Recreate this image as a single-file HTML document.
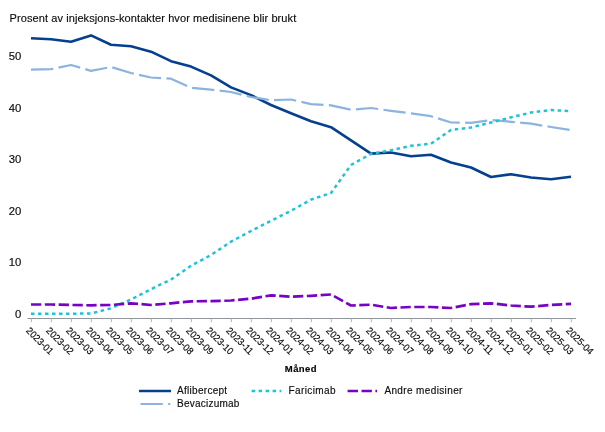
<!DOCTYPE html>
<html><head><meta charset="utf-8"><title>Chart</title>
<style>
html,body{margin:0;padding:0;background:#fff}
svg{display:block;font-family:"Liberation Sans",Arial,sans-serif;fill:#0d0d0d}
text{stroke:#0d0d0d;stroke-width:0.15px}
.ln{fill:none;stroke-linejoin:round;stroke-linecap:butt}
</style></head><body>
<svg width="605" height="432" viewBox="0 0 605 432">
<rect width="605" height="432" fill="#fff"/>
<text x="9.6" y="22.4" font-size="11" textLength="286.6">Prosent av injeksjons-kontakter hvor medisinene blir brukt</text>
<g font-size="10"><text transform="translate(21.4,317.6) scale(1.13,1.03)" text-anchor="end">0</text><text transform="translate(21.4,266.1) scale(1.13,1.03)" text-anchor="end">10</text><text transform="translate(21.4,214.6) scale(1.13,1.03)" text-anchor="end">20</text><text transform="translate(21.4,163.0) scale(1.13,1.03)" text-anchor="end">30</text><text transform="translate(21.4,111.5) scale(1.13,1.03)" text-anchor="end">40</text><text transform="translate(21.4,60.0) scale(1.13,1.03)" text-anchor="end">50</text></g>
<g stroke="#90959c" stroke-width="1"><line x1="27.5" y1="318.5" x2="576" y2="318.5"/><line x1="31.3" y1="318.5" x2="31.3" y2="322.2" stroke="#b0b3b7"/><line x1="51.3" y1="318.5" x2="51.3" y2="322.2" stroke="#b0b3b7"/><line x1="71.3" y1="318.5" x2="71.3" y2="322.2" stroke="#b0b3b7"/><line x1="91.3" y1="318.5" x2="91.3" y2="322.2" stroke="#b0b3b7"/><line x1="111.3" y1="318.5" x2="111.3" y2="322.2" stroke="#b0b3b7"/><line x1="131.3" y1="318.5" x2="131.3" y2="322.2" stroke="#b0b3b7"/><line x1="151.3" y1="318.5" x2="151.3" y2="322.2" stroke="#b0b3b7"/><line x1="171.3" y1="318.5" x2="171.3" y2="322.2" stroke="#b0b3b7"/><line x1="191.3" y1="318.5" x2="191.3" y2="322.2" stroke="#b0b3b7"/><line x1="211.3" y1="318.5" x2="211.3" y2="322.2" stroke="#b0b3b7"/><line x1="231.3" y1="318.5" x2="231.3" y2="322.2" stroke="#b0b3b7"/><line x1="251.3" y1="318.5" x2="251.3" y2="322.2" stroke="#b0b3b7"/><line x1="271.3" y1="318.5" x2="271.3" y2="322.2" stroke="#b0b3b7"/><line x1="291.3" y1="318.5" x2="291.3" y2="322.2" stroke="#b0b3b7"/><line x1="311.3" y1="318.5" x2="311.3" y2="322.2" stroke="#b0b3b7"/><line x1="331.3" y1="318.5" x2="331.3" y2="322.2" stroke="#b0b3b7"/><line x1="351.3" y1="318.5" x2="351.3" y2="322.2" stroke="#b0b3b7"/><line x1="371.3" y1="318.5" x2="371.3" y2="322.2" stroke="#b0b3b7"/><line x1="391.3" y1="318.5" x2="391.3" y2="322.2" stroke="#b0b3b7"/><line x1="411.3" y1="318.5" x2="411.3" y2="322.2" stroke="#b0b3b7"/><line x1="431.3" y1="318.5" x2="431.3" y2="322.2" stroke="#b0b3b7"/><line x1="451.3" y1="318.5" x2="451.3" y2="322.2" stroke="#b0b3b7"/><line x1="471.3" y1="318.5" x2="471.3" y2="322.2" stroke="#b0b3b7"/><line x1="491.3" y1="318.5" x2="491.3" y2="322.2" stroke="#b0b3b7"/><line x1="511.3" y1="318.5" x2="511.3" y2="322.2" stroke="#b0b3b7"/><line x1="531.3" y1="318.5" x2="531.3" y2="322.2" stroke="#b0b3b7"/><line x1="551.3" y1="318.5" x2="551.3" y2="322.2" stroke="#b0b3b7"/><line x1="571.3" y1="318.5" x2="571.3" y2="322.2" stroke="#b0b3b7"/></g>
<g font-size="9.7" fill="#000" stroke="#000" stroke-width="0.2"><text transform="translate(25.6,331.25) rotate(45)" textLength="33.9" lengthAdjust="spacingAndGlyphs">2023-01</text><text transform="translate(45.6,331.25) rotate(45)" textLength="33.9" lengthAdjust="spacingAndGlyphs">2023-02</text><text transform="translate(65.6,331.25) rotate(45)" textLength="33.9" lengthAdjust="spacingAndGlyphs">2023-03</text><text transform="translate(85.6,331.25) rotate(45)" textLength="33.9" lengthAdjust="spacingAndGlyphs">2023-04</text><text transform="translate(105.6,331.25) rotate(45)" textLength="33.9" lengthAdjust="spacingAndGlyphs">2023-05</text><text transform="translate(125.6,331.25) rotate(45)" textLength="33.9" lengthAdjust="spacingAndGlyphs">2023-06</text><text transform="translate(145.6,331.25) rotate(45)" textLength="33.9" lengthAdjust="spacingAndGlyphs">2023-07</text><text transform="translate(165.6,331.25) rotate(45)" textLength="33.9" lengthAdjust="spacingAndGlyphs">2023-08</text><text transform="translate(185.6,331.25) rotate(45)" textLength="33.9" lengthAdjust="spacingAndGlyphs">2023-09</text><text transform="translate(205.6,331.25) rotate(45)" textLength="33.9" lengthAdjust="spacingAndGlyphs">2023-10</text><text transform="translate(225.6,331.25) rotate(45)" textLength="33.9" lengthAdjust="spacingAndGlyphs">2023-11</text><text transform="translate(245.6,331.25) rotate(45)" textLength="33.9" lengthAdjust="spacingAndGlyphs">2023-12</text><text transform="translate(265.6,331.25) rotate(45)" textLength="33.9" lengthAdjust="spacingAndGlyphs">2024-01</text><text transform="translate(285.6,331.25) rotate(45)" textLength="33.9" lengthAdjust="spacingAndGlyphs">2024-02</text><text transform="translate(305.6,331.25) rotate(45)" textLength="33.9" lengthAdjust="spacingAndGlyphs">2024-03</text><text transform="translate(325.6,331.25) rotate(45)" textLength="33.9" lengthAdjust="spacingAndGlyphs">2024-04</text><text transform="translate(345.6,331.25) rotate(45)" textLength="33.9" lengthAdjust="spacingAndGlyphs">2024-05</text><text transform="translate(365.6,331.25) rotate(45)" textLength="33.9" lengthAdjust="spacingAndGlyphs">2024-06</text><text transform="translate(385.6,331.25) rotate(45)" textLength="33.9" lengthAdjust="spacingAndGlyphs">2024-07</text><text transform="translate(405.6,331.25) rotate(45)" textLength="33.9" lengthAdjust="spacingAndGlyphs">2024-08</text><text transform="translate(425.6,331.25) rotate(45)" textLength="33.9" lengthAdjust="spacingAndGlyphs">2024-09</text><text transform="translate(445.6,331.25) rotate(45)" textLength="33.9" lengthAdjust="spacingAndGlyphs">2024-10</text><text transform="translate(465.6,331.25) rotate(45)" textLength="33.9" lengthAdjust="spacingAndGlyphs">2024-11</text><text transform="translate(485.6,331.25) rotate(45)" textLength="33.9" lengthAdjust="spacingAndGlyphs">2024-12</text><text transform="translate(505.6,331.25) rotate(45)" textLength="33.9" lengthAdjust="spacingAndGlyphs">2025-01</text><text transform="translate(525.6,331.25) rotate(45)" textLength="33.9" lengthAdjust="spacingAndGlyphs">2025-02</text><text transform="translate(545.6,331.25) rotate(45)" textLength="33.9" lengthAdjust="spacingAndGlyphs">2025-03</text><text transform="translate(565.6,331.25) rotate(45)" textLength="33.9" lengthAdjust="spacingAndGlyphs">2025-04</text></g>
<polyline class="ln" stroke="#04408e" stroke-width="2.6" points="31,38.199999999999996 51,39.199999999999996 71,41.699999999999996 91,35.4 111,44.699999999999996 131,46.199999999999996 151,51.699999999999996 171,61.199999999999996 191,66.60000000000001 211,75.4 231,87.4 251,95.10000000000001 271,105 291,113.3 311,121.3 331,127.2 351,140.4 371,153.6 391,152.5 411,156.3 431,154.8 451,162.5 471,167.5 491,177 511,174.2 531,177.5 551,179.2 571,176.7"/>
<polyline class="ln" stroke="#8db3df" stroke-width="2.25" stroke-dasharray="22.3 5.38" points="31,69.7 51,69.2 71,65 91,70.8 111,67 131,73 151,77.5 171,78.7 191,87.7 211,89.7 231,92 251,97 271,100.2 291,99.5 311,104.2 331,105.3 351,109.8 371,108 391,110.8 411,113.3 431,116.2 451,122.5 471,122.8 491,120 511,121.8 531,123.7 551,127 571,130"/>
<polyline class="ln" stroke="#1dc3d6" stroke-width="2.5" stroke-dasharray="3.5 3.5" points="31,313.7 51,313.7 71,313.7 91,313.5 111,308.3 131,299.5 151,289.2 171,279.5 191,265.8 211,255 231,241.7 251,231 271,220.8 291,210.8 311,199.6 331,193 351,165 371,153.8 391,150.2 411,145.8 431,143.7 451,130 471,127.5 491,122.5 511,117.3 531,112.5 551,110 571,111.2"/>
<polyline class="ln" stroke="#7803c6" stroke-width="2.7" stroke-dasharray="10.3 3.53" points="31,304.5 51,304.5 71,305 91,305.3 111,305 131,303.3 151,305 171,303.3 191,301.3 211,301.2 231,300.5 251,298.7 271,295.3 291,296.7 311,295.8 331,294.5 351,305.5 371,304.7 391,308 411,307 431,307 451,308 471,304.2 491,303.3 511,305.5 531,306.7 551,305 571,303.8"/>
<text x="284.8" y="372.3" font-size="9.5" font-weight="bold" textLength="31.8" fill="#000">Måned</text>
<g font-size="10">
<line x1="139" y1="391" x2="171" y2="391" stroke="#04408e" stroke-width="2.5"/>
<text x="177.1" y="393.6" textLength="50">Aflibercept</text>
<path d="M140.5 404H162.8M168.1 404H170.3" stroke="#8fb3de" stroke-width="2.1" fill="none"/>
<text x="177.1" y="406.7" textLength="62.3">Bevacizumab</text>
<line x1="251.6" y1="391" x2="281.3" y2="391" stroke="#1dc3d6" stroke-width="2.5" stroke-dasharray="3.5 3.5"/>
<text x="288.4" y="393.6" textLength="47.2">Faricimab</text>
<line x1="347.6" y1="391" x2="377" y2="391" stroke="#7803c6" stroke-width="2.6" stroke-dasharray="10.4 3.5"/>
<text x="384.4" y="393.6" textLength="78">Andre medisiner</text>
</g>
</svg>
</body></html>
